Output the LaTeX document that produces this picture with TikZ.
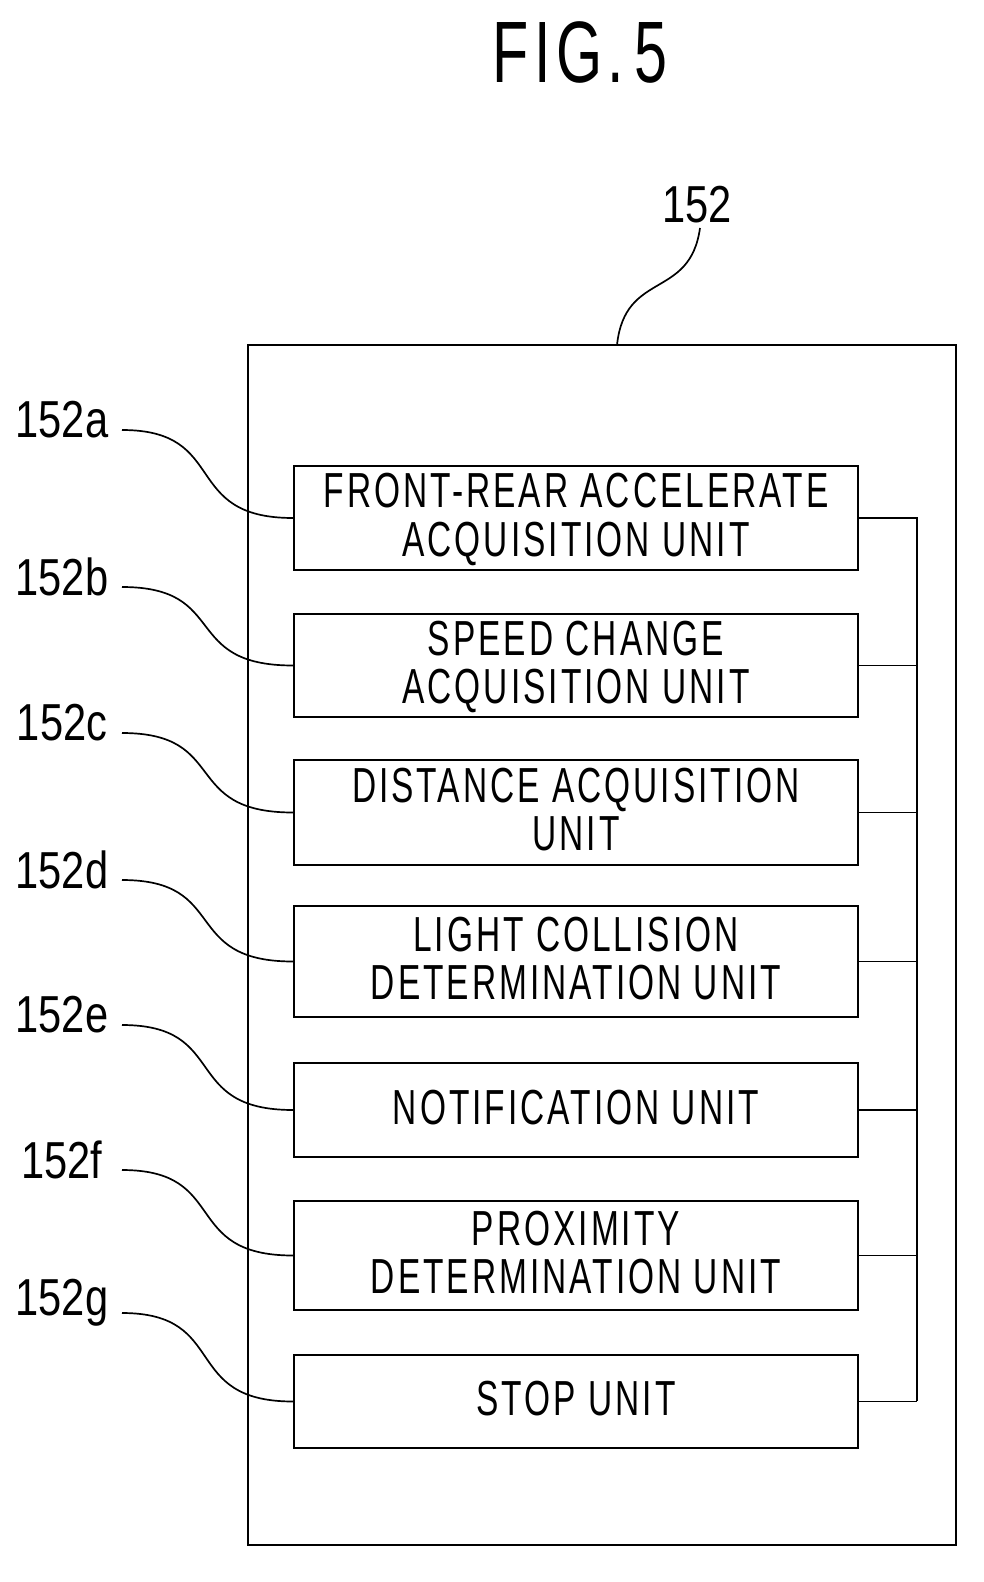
\documentclass[tikz,border=0pt]{standalone}
\usepackage{fontspec}
\setmainfont{Liberation Sans}
\newcommand{\nar}[1]{\scalebox{0.68}[1]{\addfontfeature{LetterSpace=9}#1}}
\begin{document}
\begin{tikzpicture}[x=0.025cm,y=-0.025cm,thick,
  unit/.style={draw,line width=1.4pt,minimum width=14.05cm,align=center,font=\fontsize{35}{34}\selectfont,inner sep=0pt},
  tag/.style={font=\fontsize{37}{40}\selectfont,inner sep=0pt},
  lead/.style={line width=1.2pt}]
\useasboundingbox (0,0) rectangle (984,1582);
%title
\node[font=\fontsize{62}{60}\selectfont] (fig) at (580,52) {\nar{FIG.\,5}};
%outer frame
\draw[line width=1.4pt] (248,345) rectangle (956,1545);
\node[tag] (top) at (697,205) {\scalebox{0.8}[1]{152}};
\draw[lead] (700,228) .. controls (690,300) and (625,270) .. (617,345);
%units
\foreach \n/\ya/\yb/\t/\ly in {
  a/466/570/{FRONT-REAR ACCELERATE\\ACQUISITION UNIT}/420,
  b/614/717/{SPEED CHANGE\\ACQUISITION UNIT}/577,
  c/760/865/{DISTANCE ACQUISITION\\UNIT}/723,
  d/906/1017/{LIGHT COLLISION\\DETERMINATION UNIT}/870,
  e/1063/1157/{NOTIFICATION UNIT}/1015,
  f/1201/1310/{PROXIMITY\\DETERMINATION UNIT}/1160,
  g/1355/1448/{STOP UNIT}/1303}{
  \pgfmathsetmacro{\ym}{(\ya+\yb)/2}
  \pgfmathsetmacro{\hh}{(\yb-\ya)*0.025}
  \node[unit,minimum height=\hh cm,minimum width=14.1cm] (u\n) at (576,\ym) {};
  \node[font=\fontsize{35}{34}\selectfont,align=center] (t\n) at ([yshift=-0.1cm]u\n.center) {\nar{\begin{tabular}{@{}c@{}}\t\end{tabular}}};
  \node[tag] (l\n) at (62,\ly) {\scalebox{0.8}[1]{152\n}};
  \draw[lead] (122,\ly+10) .. controls (230,\ly+10) and (180,\ym) .. (u\n.west);
  \draw[thick] (u\n.east) -- (917,\ym);
}
\draw[thick] (917,517) -- (917,1401);
\end{tikzpicture}
\end{document}
